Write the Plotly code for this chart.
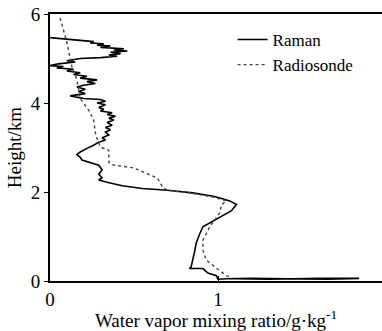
import plotly.graph_objects as go

# Raman lidar profile: (mixing ratio g/kg, height km)
raman_x = [0.00, 0.10, 0.20, 0.26, 0.24, 0.32, 0.28, 0.36, 0.30, 0.44, 0.38, 0.46, 0.36, 0.42, 0.35, 0.40,
           0.30, 0.18, 0.10, 0.15, 0.05, 0.00, 0.08, 0.04, 0.14, 0.10, 0.18, 0.14, 0.22, 0.18, 0.28, 0.22,
           0.27, 0.20, 0.16, 0.21, 0.17, 0.21, 0.12, 0.17, 0.20, 0.30, 0.33, 0.28, 0.33, 0.29, 0.32, 0.30,
           0.37, 0.34, 0.39, 0.35, 0.38, 0.34, 0.37, 0.33, 0.36, 0.33, 0.35, 0.31, 0.33, 0.29, 0.26, 0.22,
           0.18, 0.16, 0.18, 0.19, 0.24, 0.29, 0.31, 0.29, 0.31, 0.29, 0.34, 0.43, 0.55, 0.70, 0.85, 0.98,
           1.07, 1.11, 1.08, 1.02, 0.96, 0.91, 0.89, 0.87, 0.86, 0.85, 0.84, 0.83, 0.91, 0.94, 0.99, 1.00,
           1.05, 1.20, 1.50, 1.65, 1.84, 1.60, 1.30, 1.10, 1.40, 1.70]
raman_h = [5.47, 5.43, 5.40, 5.38, 5.35, 5.33, 5.30, 5.28, 5.25, 5.22, 5.19, 5.17, 5.14, 5.11, 5.08, 5.05,
           5.02, 5.00, 4.95, 4.92, 4.88, 4.84, 4.82, 4.79, 4.76, 4.72, 4.68, 4.64, 4.60, 4.56, 4.52, 4.48,
           4.44, 4.40, 4.36, 4.31, 4.26, 4.21, 4.16, 4.13, 4.10, 4.08, 4.04, 4.00, 3.96, 3.90, 3.86, 3.82,
           3.78, 3.74, 3.70, 3.66, 3.62, 3.56, 3.50, 3.45, 3.40, 3.35, 3.28, 3.22, 3.17, 3.12, 3.05, 2.98,
           2.90, 2.84, 2.78, 2.72, 2.66, 2.60, 2.50, 2.40, 2.32, 2.27, 2.22, 2.14, 2.08, 2.04, 1.98, 1.90,
           1.80, 1.72, 1.58, 1.45, 1.32, 1.22, 1.05, 0.85, 0.65, 0.48, 0.32, 0.28, 0.28, 0.18, 0.12, 0.04,
           0.05, 0.06, 0.05, 0.04, 0.06, 0.06, 0.04, 0.05, 0.05, 0.05]

# Radiosonde profile
sonde_x = [0.06, 0.10, 0.13, 0.16, 0.18, 0.23, 0.26, 0.27, 0.28, 0.29, 0.30, 0.35, 0.35, 0.37, 0.50,
           0.64, 0.67, 0.70, 0.85, 0.98, 1.05, 1.02, 1.01, 0.95, 0.91, 0.91, 0.93, 0.99, 1.05, 1.08]
sonde_h = [5.91, 5.37, 4.82, 4.52, 4.10, 3.84, 3.62, 3.33, 3.20, 3.12, 3.01, 2.94, 2.67, 2.61, 2.54,
           2.31, 2.11, 2.04, 1.97, 1.88, 1.80, 1.71, 1.53, 1.21, 0.92, 0.70, 0.47, 0.29, 0.12, 0.08]

x_ticks = [0, 1, 2]
y_ticks = [0, 2, 4, 6]

FONT = "Liberation Serif"

fig = go.Figure()
fig.add_trace(go.Scatter(x=raman_x, y=raman_h, mode="lines", name="Raman",
                         line=dict(color="black", width=1.6)))
fig.add_trace(go.Scatter(x=sonde_x, y=sonde_h, mode="lines", name="Radiosonde",
                         line=dict(color="#444444", width=1.4, dash="dot")))

fig.update_layout(
    width=382, height=331,
    margin=dict(l=50, r=0, t=14, b=50),
    paper_bgcolor="white", plot_bgcolor="white",
    font=dict(family=FONT, size=18, color="black"),
    showlegend=True,
    legend=dict(x=0.55, y=0.97, xanchor="left", yanchor="top",
                bgcolor="rgba(0,0,0,0)", font=dict(family=FONT, size=17),
                tracegroupgap=0, itemwidth=30),
)
fig.update_xaxes(range=[0, 1.976], tickvals=x_ticks, ticktext=[str(v) for v in x_ticks],
                 tickfont=dict(family=FONT, size=19),
                 showline=True, linecolor="black", linewidth=2, mirror=True,
                 ticks="inside", ticklen=5, tickcolor="black", showgrid=False, zeroline=False,
                 title=dict(text="Water vapor mixing ratio/g·kg<sup>-1</sup>", standoff=6,
                            font=dict(family=FONT, size=19)))
fig.update_yaxes(range=[0, 6], tickvals=y_ticks, ticktext=[str(v) for v in y_ticks],
                 tickfont=dict(family=FONT, size=19),
                 showline=True, linecolor="black", linewidth=2, mirror=False,
                 ticks="outside", ticklen=4, tickcolor="black", showgrid=False, zeroline=False,
                 title=dict(text="Height/km", standoff=4, font=dict(family=FONT, size=19)))

fig.write_html("out.html")
